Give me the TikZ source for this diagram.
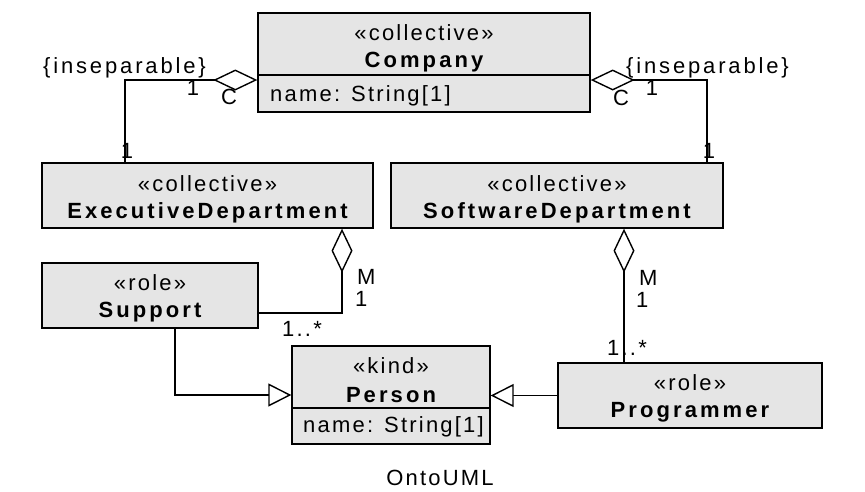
\documentclass[tikz,border=0pt]{standalone}
\usepackage{fontspec}
\setmainfont{Liberation Sans}[LetterSpace=10,BoldFeatures={LetterSpace=14}]
\usetikzlibrary{arrows.meta}
\begin{document}
\begin{tikzpicture}[x=1pt,y=-1pt,
  every node/.style={font=\fontsize{22}{26}\selectfont, inner sep=0pt},
  umlbox/.style={draw, line width=1.4pt, fill=black!10, rectangle, inner sep=0pt},
  conn/.style={line width=1.4pt},
  agg/.style={conn, {Diamond[open,fill=white,length=44pt,width=21pt]}-},
  gen/.style={conn, -{Triangle[open,fill=white,length=23pt,width=23pt]}},
  constr/.style={font=\fontsize{22}{26}\selectfont\addfontfeature{LetterSpace=13}}]
\useasboundingbox (0,0) rectangle (865,491);
% boxes
\node[umlbox, minimum width=332pt, minimum height=99pt] (company) at (424,62.5) {};
\node[umlbox, minimum width=331pt, minimum height=65pt] (exec) at (207.5,195.5) {};
\node[umlbox, minimum width=332pt, minimum height=65pt] (soft) at (557,195.5) {};
\node[umlbox, minimum width=216pt, minimum height=65pt] (support) at (150,295.5) {};
\node[umlbox, minimum width=198pt, minimum height=98pt] (person) at (391,395) {};
\node[umlbox, minimum width=264pt, minimum height=65pt] (prog) at (690,395.5) {};
\draw[conn] (company.west |- 0,75) -- (company.east |- 0,75);
\draw[conn] (person.west |- 0,408) -- (person.east |- 0,408);
% texts
\node (t1) at (424,33) {«collective»};
\node (t2) at (424,62) {\bfseries Company};
\node[anchor=west] (t3) at (270,96) {name: String[1]};
\node (t4) at (207.5,184) {«collective»};
\node (t5) at (207.5,213) {\bfseries ExecutiveDepartment};
\node (t6) at (557,184) {«collective»};
\node (t7) at (557,213) {\bfseries SoftwareDepartment};
\node (t8) at (150,283) {«role»};
\node (t9) at (150,312) {\bfseries Support};
\node (t10) at (391,366) {«kind»};
\node (t11) at (391,395) {\bfseries Person};
\node[anchor=west] (t12) at (303,427) {name: String[1]};
\node (t13) at (690,383) {«role»};
\node (t14) at (690,412) {\bfseries Programmer};
% connectors
\draw[agg] ([yshift=-17.5pt]company.west) -| ([xshift=-82.5pt]exec.north);
\draw[agg] ([yshift=-17.5pt]company.east) -| ([xshift=150pt]soft.north);
\draw[agg] ([xshift=134.5pt]exec.south) |- ([yshift=-17.5pt]support.east);
\draw[agg] ([xshift=67pt]soft.south) -- ([xshift=-66pt]prog.north);
\draw[gen] ([xshift=25pt]support.south) |- (person.west);
\draw[gen] (prog.west) -- (prog.west -| person.east);
% labels
\node[constr] (l1) at (124.5,68) {\{inseparable\}};
\node[constr] (l2) at (707.5,68) {\{inseparable\}};
\node (l3) at (193,88) {1};
\node (l4) at (229,97) {C};
\node (l5) at (652,88) {1};
\node (l6) at (621,98) {C};
\node (l7) at (127,151) {1};
\node (l8) at (709,151) {1};
\node[anchor=west] (l9) at (357,277) {M};
\node[anchor=west] (l10) at (355,299) {1};
\node[anchor=west] (l11) at (282,329) {1..*};
\node[anchor=west] (l12) at (639,278) {M};
\node[anchor=west] (l13) at (636,300) {1};
\node[anchor=west] (l14) at (607,348) {1..*};
\node (l15) at (440,478) {OntoUML};
\end{tikzpicture}
\end{document}
